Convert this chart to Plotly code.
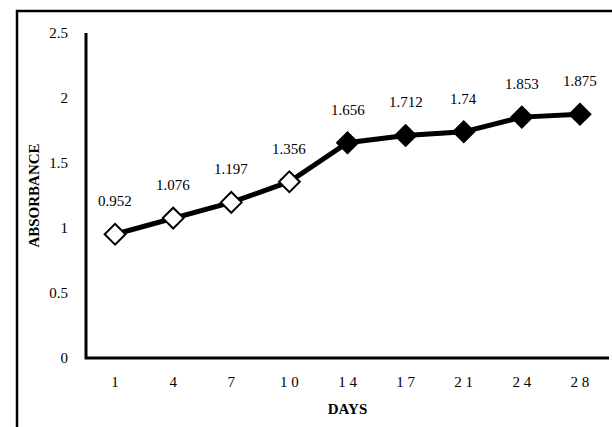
import plotly.graph_objects as go

# Absorbance readings over the storage period
days = [1, 4, 7, 10, 14, 17, 21, 24, 28]
absorbance = [0.952, 1.076, 1.197, 1.356, 1.656, 1.712, 1.74, 1.853, 1.875]
open_marker_count = 4  # first readings drawn with hollow diamonds

y_ticks = [0, 0.5, 1, 1.5, 2, 2.5]
y_tick_text = ["0", "0.5", "1", "1.5", "2", "2.5"]

tick_text = [" ".join(str(d)) for d in days]
positions = list(range(len(days)))

serif = "Liberation Serif, Times New Roman, serif"

marker_fill = ["white" if i < open_marker_count else "black" for i in range(len(days))]

fig = go.Figure()
fig.add_trace(go.Scatter(
    x=positions,
    y=absorbance,
    mode="lines+markers",
    line=dict(color="black", width=5),
    marker=dict(symbol="diamond", size=16, color=marker_fill,
                line=dict(color="black", width=2)),
    showlegend=False,
    hoverinfo="skip",
    cliponaxis=False,
))

for p, v in zip(positions, absorbance):
    fig.add_annotation(x=p, y=v, text=str(v), showarrow=False, yshift=33,
                       font=dict(family=serif, size=15, color="black"))

# Plot area bounds in pixels
L, T, R, B = 86, 33, 609, 358
W = R - L
H = B - T
def px_x(px):
    return (px - L) / W
def px_y(py):
    return (B - py) / H

# L-shaped frame along the left and top edges of the figure
frame_path = "M {:.4f},{:.4f} L {:.4f},{:.4f} L {:.4f},{:.4f}".format(
    px_x(17), px_y(430), px_x(17), px_y(11), px_x(615), px_y(11))
fig.add_shape(type="path", xref="paper", yref="paper", path=frame_path,
              line=dict(color="black", width=2.5), fillcolor="rgba(0,0,0,0)")

# Axis lines: vertical on the left, horizontal along the bottom
fig.add_shape(type="path", xref="paper", yref="paper",
              path="M 0,1 L 0,0 L 1,0",
              line=dict(color="black", width=3), fillcolor="rgba(0,0,0,0)")

fig.update_layout(
    width=612, height=427,
    margin=dict(l=L, r=612 - R, t=T, b=427 - B),
    paper_bgcolor="white",
    plot_bgcolor="white",
    font=dict(family=serif, size=15, color="black"),
    hovermode=False,
    dragmode=False,
    xaxis=dict(
        tickmode="array",
        tickvals=positions, ticktext=tick_text,
        range=[-0.5, len(days) - 0.5],
        showgrid=False, zeroline=False, showline=False,
        ticks="outside", ticklen=10, tickcolor="rgba(0,0,0,0)",
        tickfont=dict(family=serif, size=15),
        title=dict(text="<b>DAYS</b>", font=dict(family=serif, size=15), standoff=14),
    ),
    yaxis=dict(
        range=[0, 2.5],
        tickvals=y_ticks, ticktext=y_tick_text,
        showgrid=False, zeroline=False, showline=False,
        ticks="outside", ticklen=14, tickcolor="rgba(0,0,0,0)",
        tickfont=dict(family=serif, size=15),
        title=dict(text="<b>ABSORBANCE</b>", font=dict(family=serif, size=15), standoff=6),
    ),
)

fig.write_html("out.html", config={"staticPlot": True, "displayModeBar": False})
